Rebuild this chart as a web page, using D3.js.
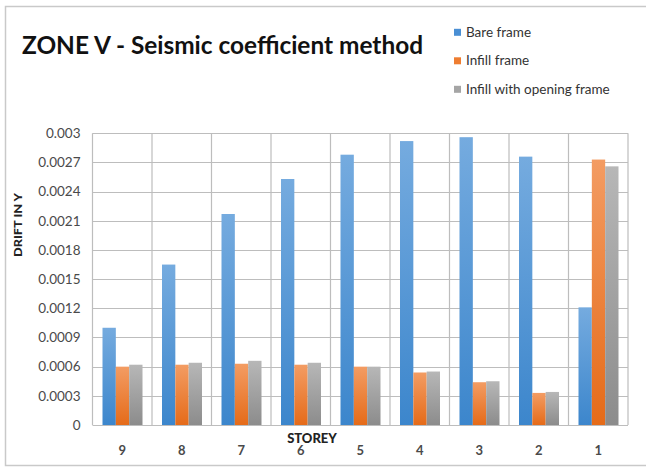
<!DOCTYPE html>
<html>
<head>
<meta charset="utf-8">
<script src="https://cdn.jsdelivr.net/npm/d3@7/dist/d3.min.js"></script>
<style>
  html, body { margin: 0; padding: 0; background: #fff; }
  svg { display: block; }
</style>
</head>
<body>
<svg id="chart" width="646" height="468"></svg>
<script>
// Storey drift in Y direction, zone V, seismic coefficient method
const storeys = ["9", "8", "7", "6", "5", "4", "3", "2", "1"];
const seriesNames = ["Bare frame", "Infill frame", "Infill with opening frame"];
const bareFrame = [0.00100, 0.00165, 0.00217, 0.00253, 0.00278, 0.00292, 0.00296, 0.00276, 0.00121];
const infillFrame = [0.00060, 0.00062, 0.00063, 0.00062, 0.00060, 0.00054, 0.00044, 0.00033, 0.00273];
const infillOpening = [0.00062, 0.00064, 0.00066, 0.00064, 0.00060, 0.00055, 0.00045, 0.00034, 0.00266];
const yTicks = [0, 0.0003, 0.0006, 0.0009, 0.0012, 0.0015, 0.0018, 0.0021, 0.0024, 0.0027, 0.003];
const yTickLabels = ["0", "0.0003", "0.0006", "0.0009", "0.0012", "0.0015", "0.0018", "0.0021", "0.0024", "0.0027", "0.003"];

const seriesValues = [bareFrame, infillFrame, infillOpening];
const rows = storeys.map((s, i) => ({ storey: s, values: seriesValues.map(v => v[i]) }));

const svg = d3.select("#chart");
const font = "Lato, 'Open Sans', 'DejaVu Sans', sans-serif";

// Chart frame
svg.append("rect")
  .attr("x", 5.5).attr("y", 6.5).attr("width", 660).attr("height", 459)
  .attr("fill", "#fff").attr("stroke", "#c9c9c9").attr("stroke-width", 1.5);

const plot = { left: 92.5, right: 628, top: 133.3, bottom: 425 };

const x0 = d3.scaleBand().domain(storeys).range([plot.left, plot.right]).padding(0);
const x1 = d3.scaleBand().domain(d3.range(3)).range([10, x0.bandwidth() - 9.5]).padding(0);
const y = d3.scaleLinear().domain([0, 0.003]).range([plot.bottom, plot.top]);

// Gradients for the bar fills
const defs = svg.append("defs");
const gradStops = [
  ["#75abdf", "#3c86cc"],
  ["#f39c63", "#e56b19"],
  ["#b7b7b7", "#8c8c8c"]
];
gradStops.forEach((c, i) => {
  const g = defs.append("linearGradient").attr("id", "grad" + i)
    .attr("x1", 0).attr("y1", 0).attr("x2", 0).attr("y2", 1);
  g.append("stop").attr("offset", "0%").attr("stop-color", c[0]);
  g.append("stop").attr("offset", "100%").attr("stop-color", c[1]);
});
const legendColors = ["#4a8fd4", "#ee7d31", "#a5a5a5"];

// Horizontal gridlines
svg.append("g").selectAll("line").data(yTicks).join("line")
  .attr("x1", plot.left).attr("x2", plot.right)
  .attr("y1", d => Math.round(y(d)) + 0.5).attr("y2", d => Math.round(y(d)) + 0.5)
  .attr("stroke", "#bdbdbd").attr("stroke-width", 1.2);

// Vertical category gridlines
const vLines = storeys.map(s => x0(s)).concat([plot.right]);
svg.append("g").selectAll("line").data(vLines).join("line")
  .attr("x1", d => d).attr("x2", d => d)
  .attr("y1", plot.top).attr("y2", plot.bottom)
  .attr("stroke", "#bdbdbd").attr("stroke-width", 1.2);

// Bars
svg.append("g").selectAll("g").data(rows).join("g")
  .attr("transform", d => `translate(${x0(d.storey)},0)`)
  .selectAll("rect").data(d => d.values.map((v, i) => ({ v, i }))).join("rect")
  .attr("x", d => x1(d.i))
  .attr("width", x1.bandwidth())
  .attr("y", d => y(d.v))
  .attr("height", d => y(0) - y(d.v))
  .attr("fill", d => `url(#grad${d.i})`);

// Y axis labels
const yAxis = d3.axisLeft(y).tickValues(yTicks)
  .tickFormat((d, i) => yTickLabels[i]).tickSize(0).tickPadding(12);
svg.append("g").attr("transform", `translate(${plot.left},0)`).call(yAxis)
  .call(g => g.select(".domain").remove())
  .selectAll("text")
  .attr("font-family", font).attr("font-size", 13.5).attr("fill", "#4a4a4a");

// X axis labels
const xAxis = d3.axisBottom(x0).tickSize(0).tickPadding(21);
svg.append("g").attr("transform", `translate(0,${plot.bottom})`).call(xAxis)
  .call(g => g.select(".domain").remove())
  .selectAll("text")
  .attr("font-family", font).attr("font-size", 13).attr("font-weight", 700).attr("fill", "#4a4a4a");

// Axis titles
svg.append("text")
  .attr("x", 312).attr("y", 443).attr("text-anchor", "middle")
  .attr("font-family", font).attr("font-size", 13).attr("font-weight", 900).attr("fill", "#222")
  .text("STOREY");
svg.append("text")
  .attr("transform", "translate(22,225) rotate(-90)").attr("text-anchor", "middle")
  .attr("font-family", font).attr("font-size", 11.5).attr("font-weight", 900).attr("fill", "#222")
  .attr("textLength", 64).attr("lengthAdjust", "spacingAndGlyphs")
  .text("DRIFT IN Y");

// Title
svg.append("text")
  .attr("x", 22).attr("y", 53.5)
  .attr("font-family", font).attr("font-size", 24).attr("font-weight", 700).attr("fill", "#111")
  .attr("textLength", 401).attr("lengthAdjust", "spacingAndGlyphs")
  .text("ZONE V - Seismic coefficient method");

// Legend
const legend = svg.append("g").selectAll("g").data(seriesNames).join("g")
  .attr("transform", (d, i) => `translate(454,${32.3 + i * 28.5})`);
legend.append("rect")
  .attr("x", 0).attr("y", -3.5).attr("width", 7).attr("height", 7)
  .attr("fill", (d, i) => legendColors[i]);
legend.append("text")
  .attr("x", 12).attr("y", 4.6)
  .attr("font-family", font).attr("font-size", 13.5).attr("fill", "#333")
  .text(d => d);
</script>
</body>
</html>
